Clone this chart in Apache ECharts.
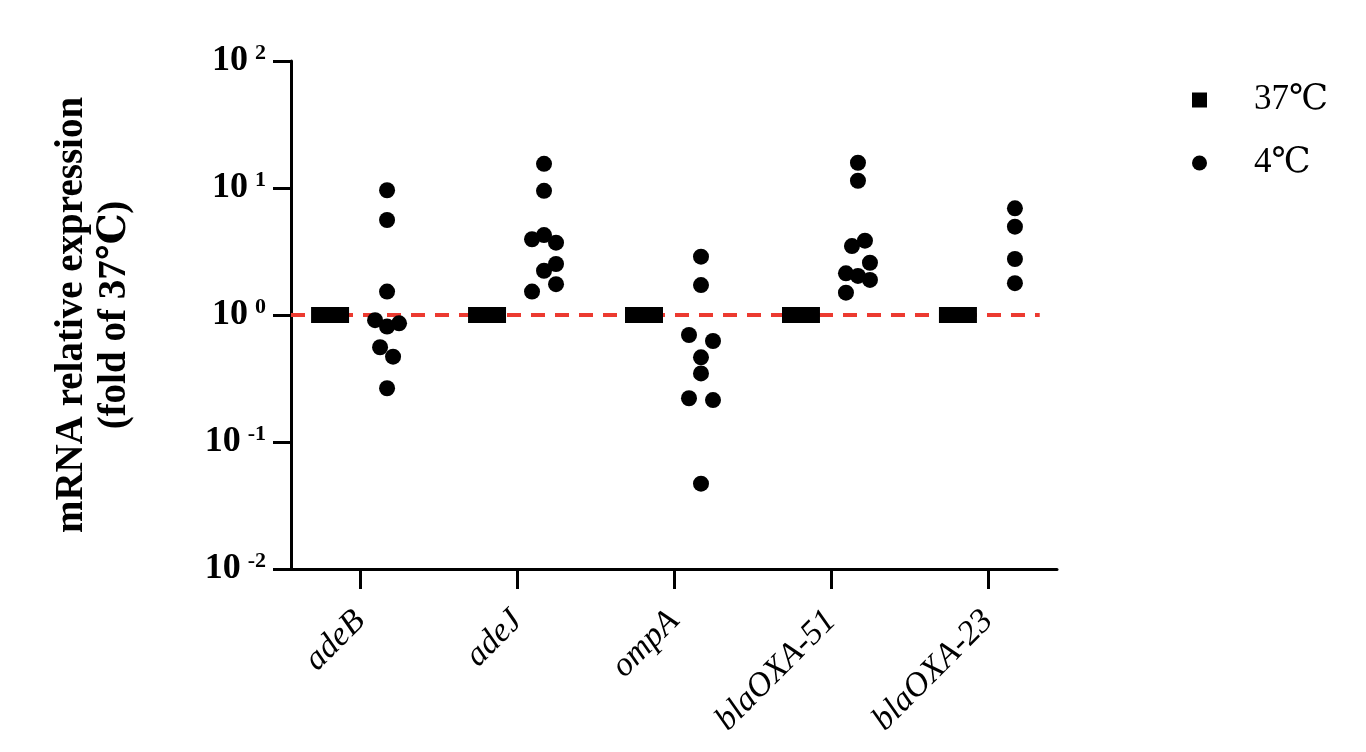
<!DOCTYPE html>
<html><head><meta charset="utf-8">
<script src="https://cdn.jsdelivr.net/npm/echarts@6/dist/echarts.min.js"></script>
<style>html,body{margin:0;padding:0;background:#fff}#c{width:1366px;height:752px}</style>
</head><body><div id="c"></div>
<script>
// ---- data ----
const genes = ['adeB', 'adeJ', 'ompA', 'blaOXA-51', 'blaOXA-23'];
// 37 °C reference (normalised, fold = 1 for every replicate)
const ref37_adeB = [1, 1, 1, 1, 1, 1, 1, 1, 1];
const ref37_adeJ = [1, 1, 1, 1, 1, 1, 1, 1, 1];
const ref37_ompA = [1, 1, 1, 1, 1, 1, 1, 1, 1];
const ref37_oxa51 = [1, 1, 1, 1, 1, 1, 1, 1, 1];
const ref37_oxa23 = [1, 1, 1, 1];
// 4 °C fold of 37 °C
const cold4_adeB = [9.6, 5.6, 1.53, 0.91, 0.81, 0.86, 0.557, 0.47, 0.265];
const cold4_adeJ = [15.5, 9.5, 3.95, 4.26, 3.71, 2.52, 2.23, 1.75, 1.53];
const cold4_ompA = [2.88, 1.72, 0.696, 0.624, 0.464, 0.347, 0.221, 0.214, 0.047];
const cold4_oxa51 = [15.8, 11.4, 3.49, 3.85, 2.58, 2.13, 2.03, 1.89, 1.50];
const cold4_oxa23 = [6.92, 4.96, 2.76, 1.78];
const yTicks = [0.01, 0.1, 1, 10, 100];
const refLevel = 1;

// ---- layout (not data) ----
const UNIT_PX = 157;              // pixels per category on the x axis
const OFF37 = -30 / UNIT_PX;      // column offset of 37 °C group
const OFF4 = 27 / UNIT_PX;        // column offset of 4 °C group
const JIT4_PX = [
  [0, 0, 0, -12, 0, 12, -7, 6, 0],
  [0, 0, -12, 0, 12, 12, 0, 12, -12],
  [0, 0, -12, 12, 0, 0, -12, 12, 0],
  [0, 0, -6, 7, 12, -12, 0, 12, -12],
  [0, 0, 0, 0]
];

const ref37 = [ref37_adeB, ref37_adeJ, ref37_ompA, ref37_oxa51, ref37_oxa23];
const cold4 = [cold4_adeB, cold4_adeJ, cold4_ompA, cold4_oxa51, cold4_oxa23];

const data37 = [], data4 = [];
ref37.forEach((arr, gi) => {
  const n = arr.length;
  arr.forEach((v, k) => {
    const jpx = n > 1 ? -11 + 22 * k / (n - 1) : 0;
    data37.push([gi + OFF37 + jpx / UNIT_PX, v]);
  });
});
cold4.forEach((arr, gi) => {
  arr.forEach((v, k) => {
    data4.push([gi + OFF4 + JIT4_PX[gi][k] / UNIT_PX, v]);
  });
});

const FONT = "'Liberation Serif','Times New Roman','DejaVu Serif',serif";
const XMIN = -0.44, XMAX = 4.44;

const chart = echarts.init(document.getElementById('c'), null, {renderer: 'canvas'});
chart.setOption({
  animation: false,
  backgroundColor: '#fff',
  grid: {left: 291, right: 309, top: 61, bottom: 183, containLabel: false},
  legend: {
    orient: 'vertical', left: 1187, top: 76,
    itemWidth: 15, itemHeight: 15, itemGap: 25,
    data: [{name: '37℃', icon: 'rect'}, {name: '4℃', icon: 'circle'}],
    itemStyle: {opacity: 1, color: '#000'},
    textStyle: {fontFamily: FONT, fontSize: 35, color: '#000', padding: [0, 0, 0, 42], lineHeight: 38}
  },
  xAxis: {
    type: 'value', min: XMIN, max: XMAX,
    splitLine: {show: false},
    axisLine: {show: true, onZero: false, lineStyle: {color: '#000', width: 3}},
    axisTick: {show: true, length: 20, customValues: [0, 1, 2, 3, 4], lineStyle: {color: '#000', width: 3}},
    axisLabel: {
      customValues: [0, 1, 2, 3, 4],
      formatter: v => genes[Math.round(v)],
      rotate: 45, margin: 47,
      fontFamily: FONT, fontStyle: 'italic', fontSize: 34, color: '#000'
    }
  },
  yAxis: {
    type: 'log', logBase: 10, min: yTicks[0], max: yTicks[yTicks.length - 1],
    splitLine: {show: false},
    axisLine: {show: true, onZero: false, lineStyle: {color: '#000', width: 3}},
    axisTick: {show: true, length: 18, lineStyle: {color: '#000', width: 3}},
    axisLabel: {
      margin: 25,
      formatter: v => '{b|10}{s|' + Math.round(Math.log10(v)) + '}',
      rich: {
        b: {fontFamily: FONT, fontWeight: 'bold', fontSize: 36, color: '#000', lineHeight: 38},
        s: {fontFamily: FONT, fontWeight: 'bold', fontSize: 22, color: '#000', lineHeight: 24, padding: [0, 0, 16, 7]}
      }
    },
    name: 'mRNA relative expression\n(fold of 37℃)',
    nameLocation: 'middle', nameGap: 155, nameRotate: 90,
    nameTextStyle: {fontFamily: FONT, fontWeight: 'bold', fontSize: 39, lineHeight: 43, color: '#000'}
  },
  series: [
    {
      type: 'line', silent: true, symbol: 'none', z: 1,
      data: [[XMIN, refLevel], [4.33, refLevel]],
      lineStyle: {color: '#ec3a30', width: 4, type: [14, 10]}
    },
    {
      name: '37℃', type: 'scatter', symbol: 'rect', symbolSize: 16, z: 3,
      itemStyle: {color: '#000', opacity: 1}, data: data37
    },
    {
      name: '4℃', type: 'scatter', symbol: 'circle', symbolSize: 16, z: 3,
      itemStyle: {color: '#000', opacity: 1}, data: data4
    }
  ]
});
</script></body></html>
